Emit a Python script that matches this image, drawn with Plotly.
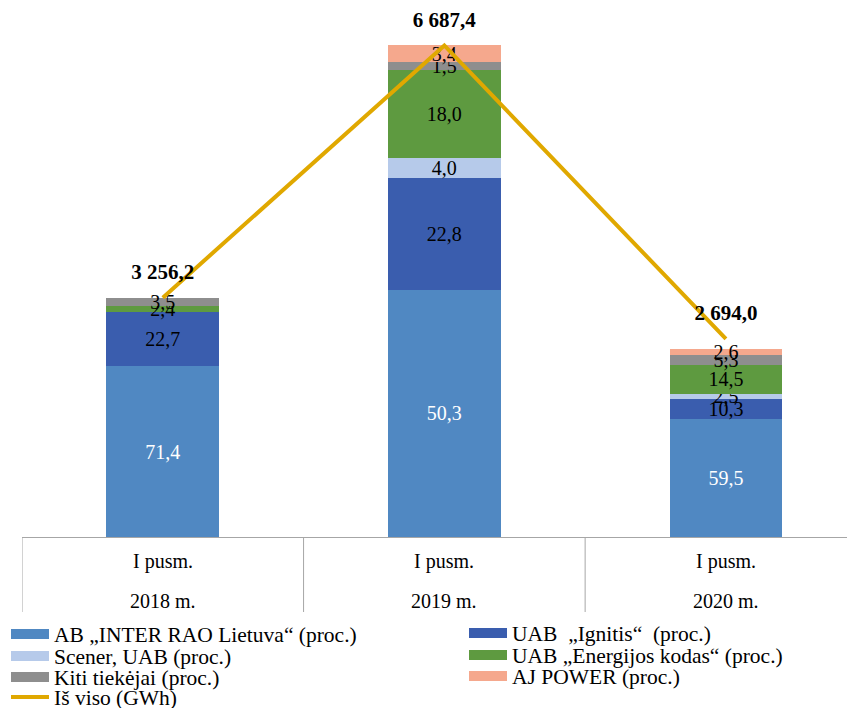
import plotly.graph_objects as go

periods = ["I pusm.", "I pusm.", "I pusm."]
years = ["2018 m.", "2019 m.", "2020 m."]
totals = [3256.2, 6687.4, 2694.0]  # GWh

series_names = [
    "AB „INTER RAO Lietuva“ (proc.)",
    "UAB  „Ignitis“  (proc.)",
    "Scener, UAB (proc.)",
    "UAB „Energijos kodas“ (proc.)",
    "Kiti tiekėjai (proc.)",
    "AJ POWER (proc.)",
]
inter_rao = [71.4, 50.3, 59.5]
ignitis = [22.7, 22.8, 10.3]
scener = [0.0, 4.0, 2.5]
energijos_kodas = [2.4, 18.0, 14.5]
kiti = [3.5, 1.5, 5.3]
aj_power = [0.0, 3.4, 2.6]
series_values = [inter_rao, ignitis, scener, energijos_kodas, kiti, aj_power]
colors = ["#5088c2", "#3a5dae", "#b6caea", "#5e9a40", "#8e8e8e", "#f5a88d"]
text_colors = ["white", "black", "black", "black", "black", "black"]
line_name = "Iš viso (GWh)"
line_color = "#e0a800"

FONT = "Liberation Serif"
x = [0, 1, 2]

# plot-area geometry (pixels): left, bottom, width, height
L, B, W, H = 22, 537, 825, 527

def fmt(v):
    return f"{v:.1f}".replace(".", ",")

def fmt_total(v):
    s = f"{v:,.1f}"
    return s.replace(",", " ").replace(".", ",")

# legend slot for each entry: (column left px, row centre px)
legend_slots = [(6, 634), (464, 633), (6, 656), (464, 655), (6, 677), (464, 676), (6, 697)]
legend_ids = ["legend"] + [f"legend{i}" for i in range(2, 8)]

fig = go.Figure()
for name, vals, col, tc in zip(series_names, series_values, colors, text_colors):
    fig.add_trace(go.Bar(
        x=x, y=[p * t / 100 for p, t in zip(vals, totals)],
        marker=dict(color=col, line=dict(width=0)),
        text=[fmt(v) for v in vals], textposition="inside",
        insidetextanchor="middle",
        textfont=dict(family=FONT, size=20, color=tc),
        width=0.4, showlegend=False, hoverinfo="skip",
    ))

fig.add_trace(go.Scatter(
    x=x, y=totals, mode="lines+markers+text",
    line=dict(color=line_color, width=4),
    marker=dict(size=20, opacity=0, color=line_color),
    text=["<b>" + fmt_total(v) + "</b>" for v in totals],
    textposition="top center", cliponaxis=False,
    textfont=dict(family=FONT, size=21, color="black"),
    showlegend=False, hoverinfo="skip",
))

# legend entries with wide swatches, one small legend per slot
entries = list(zip(series_names, colors, [10] * 6)) + [(line_name, line_color, 4)]
for (name, col, lw), lid in zip(entries, legend_ids):
    fig.add_trace(go.Scatter(x=[None], y=[None], mode="lines", name=name,
                             line=dict(color=col, width=lw), legend=lid))

legend_layouts = {}
for (lx, ly), lid in zip(legend_slots, legend_ids):
    legend_layouts[lid] = dict(
        orientation="h", x=(lx - L) / W, xanchor="left",
        y=(B - ly) / H, yanchor="middle", itemwidth=38,
        font=dict(family=FONT, size=21.5, color="black"),
        bgcolor="rgba(0,0,0,0)", borderwidth=0)

shapes = []
for b in [-0.5, 0.5, 1.5, 2.5]:
    shapes.append(dict(type="line", xref="x", yref="paper", ysizemode="pixel",
                       yanchor=0, x0=b, x1=b, y0=0, y1=-75,
                       line=dict(color="#a6a6a6", width=1)))
annotations = []
for i in range(3):
    annotations.append(dict(x=x[i], y=0, xref="x", yref="paper", yshift=-24,
                            text=periods[i], showarrow=False, yanchor="middle",
                            font=dict(family=FONT, size=20, color="black")))
    annotations.append(dict(x=x[i], y=0, xref="x", yref="paper", yshift=-64,
                            text=years[i], showarrow=False, yanchor="middle",
                            font=dict(family=FONT, size=20, color="black")))

fig.update_layout(
    width=847, height=708,
    margin=dict(l=L, r=847 - L - W, t=B - H, b=708 - B, autoexpand=False),
    barmode="stack", bargap=0.6,
    plot_bgcolor="white", paper_bgcolor="white",
    font=dict(family=FONT, size=20, color="black"),
    uniformtext=dict(minsize=20, mode="show"),
    xaxis=dict(range=[-0.5, 2.43], showgrid=False, zeroline=False,
               showticklabels=False, showline=True, linecolor="#a6a6a6",
               linewidth=1, fixedrange=True),
    yaxis=dict(range=[0, 7170], showgrid=False, zeroline=False,
               showticklabels=False, showline=False, fixedrange=True),
    shapes=shapes, annotations=annotations,
    **legend_layouts,
)

fig.write_html("out.html", config={"displayModeBar": False},
               post_script="document.body.style.margin='0';document.body.style.padding='0';")
